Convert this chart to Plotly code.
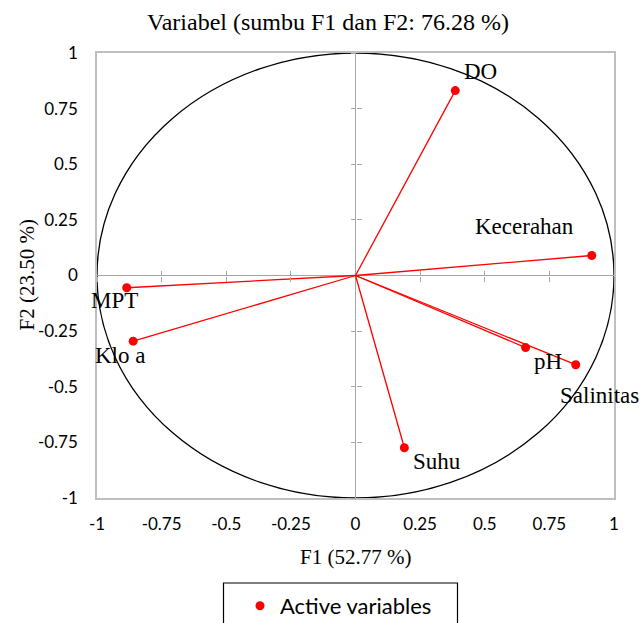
import plotly.graph_objects as go

# Data
variables = ["DO", "Kecerahan", "pH", "Salinitas", "Suhu", "MPT", "Klo a"]
f1_values = [0.386, 0.914, 0.658, 0.852, 0.189, -0.885, -0.860]
f2_values = [0.831, 0.090, -0.324, -0.401, -0.774, -0.055, -0.295]
tick_values = [-1, -0.75, -0.5, -0.25, 0, 0.25, 0.5, 0.75, 1]
tick_labels = ["-1", "-0.75", "-0.5", "-0.25", "0", "0.25", "0.5", "0.75", "1"]
cross_ticks = [-1, -0.75, -0.5, -0.25, 0.25, 0.5, 0.75, 1]

title_text = "Variabel (sumbu F1 dan F2: 76.28 %)"
x_title = "F1 (52.77 %)"
y_title = "F2 (23.50 %)"
legend_name = "Active variables"

# label pixel offsets (style)
label_shift = {
    "DO": (25, 19),
    "Kecerahan": (-67, 29),
    "pH": (22, -14),
    "Salinitas": (24, -31),
    "Suhu": (33, -14),
    "MPT": (-12, -13),
    "Klo a": (-13, -14),
}

SERIF = "Liberation Serif, Times New Roman, serif"
SANS = "Lato, Carlito, Calibri, sans-serif"
RED = "#ff0000"

W, H = 640, 623
ML, MR, MT, MB = 97, 26, 53, 125
PW = W - ML - MR
PH = H - MT - MB


def px_x(p):
    return (p - ML) / PW


def px_y(p):
    return (H - MB - p) / PH


fig = go.Figure()

# vectors from origin
lx, ly = [], []
for x, y in zip(f1_values, f2_values):
    lx += [0, x, None]
    ly += [0, y, None]
fig.add_trace(go.Scatter(x=lx, y=ly, mode="lines",
                         line=dict(color=RED, width=1.3),
                         showlegend=False, hoverinfo="skip"))

fig.add_trace(go.Scatter(x=f1_values, y=f2_values, mode="markers",
                         marker=dict(color=RED, size=9),
                         name=legend_name, text=variables))

# invisible traces to activate cross-tick axes
fig.add_trace(go.Scatter(x=[None], y=[None], xaxis="x2", yaxis="y2",
                         showlegend=False, hoverinfo="skip"))
fig.add_trace(go.Scatter(x=[None], y=[None], xaxis="x3", yaxis="y3",
                         showlegend=False, hoverinfo="skip"))

# unit circle
fig.add_shape(type="circle", xref="x", yref="y", x0=-1, y0=-1, x1=1, y1=1,
              line=dict(color="black", width=1.3), layer="below")

# labels
for name, x, y in zip(variables, f1_values, f2_values):
    dx, dy = label_shift[name]
    fig.add_annotation(x=x, y=y, text=name, showarrow=False,
                       xshift=dx, yshift=dy, xanchor="center", yanchor="middle",
                       font=dict(family=SERIF, size=23, color="black"))

# titles
fig.add_annotation(xref="paper", yref="paper", x=px_x(355), y=px_y(557),
                   xanchor="center", yanchor="middle",
                   text=x_title, showarrow=False,
                   font=dict(family=SERIF, size=21, color="black"))
fig.add_annotation(xref="paper", yref="paper", x=px_x(26), y=0.5,
                   xanchor="center", yanchor="middle",
                   text=y_title, showarrow=False, textangle=-90,
                   font=dict(family=SERIF, size=21, color="black"))
fig.add_annotation(xref="paper", yref="paper", x=px_x(328), y=px_y(22),
                   xanchor="center", yanchor="middle",
                   text=title_text, showarrow=False,
                   font=dict(family=SERIF, size=24, color="black"))

# legend box
fig.add_shape(type="rect", xref="paper", yref="paper",
              x0=px_x(223.5), x1=px_x(457.5), y0=px_y(583), y1=px_y(660),
              line=dict(color="black", width=1.2))

grey = "#a6a6a6"
common_axis = dict(range=[-1, 1], tickvals=tick_values, ticktext=tick_labels,
                   showgrid=False, zeroline=True, zerolinecolor=grey,
                   zerolinewidth=1.3, showline=True, mirror=True,
                   linecolor="#bfbfbf", linewidth=1.5, ticks="",
                   tickfont=dict(family=SANS, size=17, color="black"),
                   fixedrange=True)

cross_axis = dict(range=[-1, 1], tickvals=cross_ticks, showticklabels=False,
                  showgrid=False, zeroline=False, showline=False,
                  ticklen=5, tickwidth=1.3, tickcolor=grey,
                  anchor="free", position=0.5, fixedrange=True)

fig.update_layout(
    width=W, height=H,
    margin=dict(l=ML, r=MR, t=MT, b=MB, autoexpand=False),
    paper_bgcolor="white", plot_bgcolor="white",
    xaxis=dict(**common_axis, ticklabelstandoff=10),
    yaxis=dict(**common_axis, ticklabelstandoff=14),
    xaxis2=dict(**cross_axis, overlaying="x", ticks="outside"),
    xaxis3=dict(**cross_axis, overlaying="x", ticks="inside"),
    yaxis2=dict(**cross_axis, overlaying="y", ticks="outside"),
    yaxis3=dict(**cross_axis, overlaying="y", ticks="inside"),
    showlegend=True,
    legend=dict(x=px_x(240), y=px_y(606), xanchor="left", yanchor="middle",
                font=dict(family=SANS, size=22, color="black"),
                bgcolor="rgba(0,0,0,0)", borderwidth=0),
)

fig.write_html("out.html",
               config={"displayModeBar": False},
               post_script="document.body.style.margin='0';"
                           "document.body.style.overflow='hidden';")
